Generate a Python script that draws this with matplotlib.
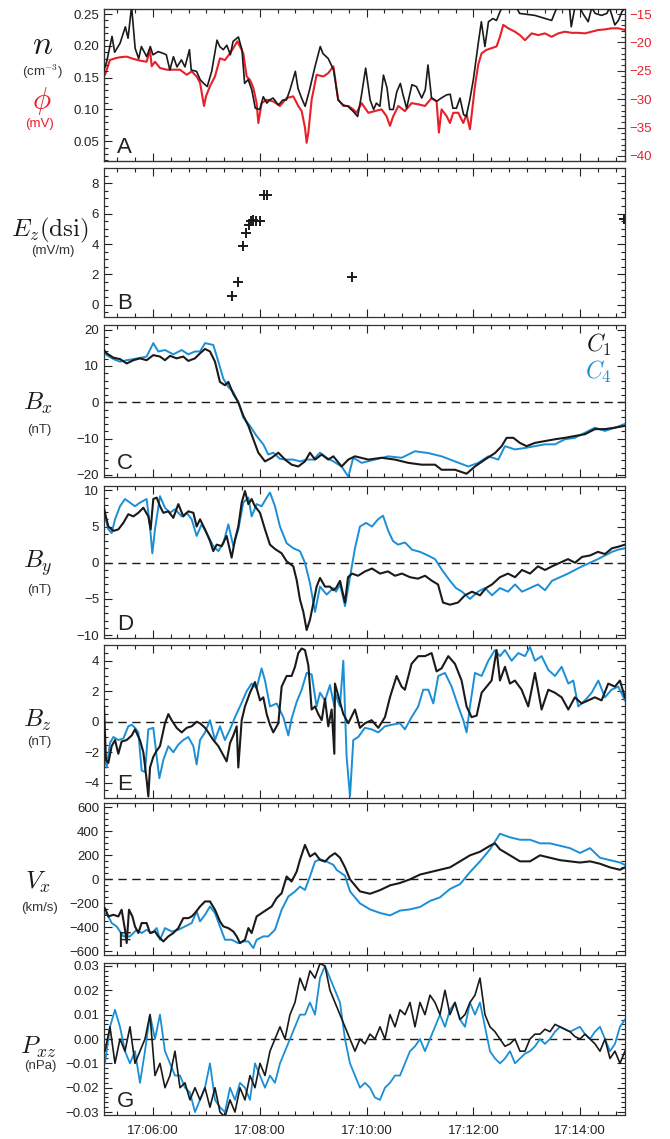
import matplotlib
matplotlib.use("Agg")
import matplotlib.pyplot as plt
import numpy as np
from matplotlib.ticker import MultipleLocator, FuncFormatter

plt.rcParams['font.family'] = ['Liberation Sans', 'DejaVu Sans']
plt.rcParams['mathtext.fontset'] = 'cm'
plt.rcParams['axes.unicode_minus'] = True

BLACK = '#1a1a1a'
BLUE = '#1b8fd6'
RED = '#e8202a'

# time in seconds after 17:00:00
T0, T1 = 305, 890.4

# A: density n (C1) and spacecraft potential phi
n_c1 = [(305, 0.162), (308, 0.175), (314, 0.215), (317, 0.19), (323, 0.204), (329, 0.23),
        (332, 0.212), (336, 0.262), (340, 0.196), (344, 0.18), (347, 0.199), (353, 0.183),
        (357, 0.199), (360, 0.186), (366, 0.191), (372, 0.188), (375, 0.186), (379, 0.162),
        (383, 0.183), (387, 0.167), (392, 0.178), (396, 0.167), (401, 0.194), (403, 0.162),
        (409, 0.16), (413, 0.147), (417, 0.141), (421, 0.136), (426, 0.16), (432, 0.209),
        (435, 0.199), (439, 0.194), (443, 0.201), (447, 0.186), (450, 0.207), (456, 0.214),
        (460, 0.194), (463, 0.141), (467, 0.147), (471, 0.131), (475, 0.102), (480, 0.1),
        (484, 0.12), (488, 0.11), (491, 0.115), (495, 0.118), (501, 0.107), (506, 0.115),
        (510, 0.115), (514, 0.131), (520, 0.16), (523, 0.133), (527, 0.118), (531, 0.105),
        (536, 0.131), (542, 0.167), (548, 0.199), (551, 0.188), (557, 0.18), (563, 0.162),
        (568, 0.115), (574, 0.107), (579, 0.105), (585, 0.097), (590, 0.089), (594, 0.12),
        (599, 0.165), (604, 0.115), (608, 0.1), (611, 0.11), (615, 0.105), (619, 0.154),
        (623, 0.134), (626, 0.1), (630, 0.1), (634, 0.128), (638, 0.141), (641, 0.123),
        (645, 0.102), (651, 0.139), (656, 0.136), (662, 0.118), (666, 0.131), (669, 0.17),
        (673, 0.118), (679, 0.113), (684, 0.118), (690, 0.123), (694, 0.124), (697, 0.102),
        (701, 0.102), (705, 0.118), (709, 0.092), (712, 0.089), (716, 0.115), (720, 0.147),
        (726, 0.209), (729, 0.238), (733, 0.199), (737, 0.238), (742, 0.243), (746, 0.24),
        (750, 0.254), (754, 0.265), (759, 0.262), (765, 0.27), (772, 0.251), (789, 0.248),
        (808, 0.24), (812, 0.254), (817, 0.27), (823, 0.262), (827, 0.275), (830, 0.23),
        (834, 0.26), (838, 0.265), (843, 0.251), (849, 0.238), (853, 0.26), (857, 0.251),
        (864, 0.248), (870, 0.251), (873, 0.26), (879, 0.233), (883, 0.24), (887, 0.254),
        (890.4, 0.26)]

phi_c1 = [(305, -25.4), (306.1, -25.7), (311.7, -23.1), (317.4, -22.8), (323, -22.6),
          (330.5, -22.5), (338, -22.9), (345.4, -23.2), (352.9, -23.4), (356.7, -21.3),
          (358.6, -24.2), (362.3, -23.4), (367.9, -24.5), (375.4, -24.8), (382.9, -24.8),
          (390.4, -24.8), (397.9, -25.7), (403.5, -25.1), (409.1, -26.0), (412.9, -27.1),
          (417.4, -31.2), (419.6, -29.5), (424.1, -27.7), (429.7, -26.0), (435.3, -22.8),
          (440.9, -23.1), (446.6, -21.9), (450.3, -21.0), (454.8, -19.8), (457.8, -20.7),
          (461.5, -21.9), (465.3, -26.0), (469, -26.6), (472.8, -28.0), (476.5, -30.7),
          (478.4, -34.2), (482.1, -30.7), (487.8, -30.1), (495.2, -30.4), (502.7, -31.2),
          (510.2, -29.8), (517.7, -29.5), (523.3, -31.2), (527.1, -32.1), (530.8, -35.0),
          (532.7, -37.7), (534.6, -35.9), (538.3, -30.1), (543.9, -25.7), (551.4, -26.0),
          (557, -25.4), (562.7, -24.2), (568.2, -30.1), (573.9, -31.2), (579.5, -31.2),
          (585.1, -31.8), (588.8, -32.4), (594.5, -30.7), (602, -32.4), (609.4, -32.1),
          (616.9, -31.8), (622.5, -33.0), (626.3, -34.7), (630, -33.0), (635.7, -31.2),
          (643.1, -32.1), (650.6, -30.7), (658.1, -30.9), (665.6, -31.2), (673.1, -29.8),
          (678.7, -30.4), (681.3, -35.9), (684.3, -31.8), (690, -33.0), (693.7, -34.2),
          (697.4, -32.4), (703.1, -32.4), (708.7, -34.2), (712.4, -32.7), (716.2, -35.3),
          (718.8, -31.8), (721.8, -27.7), (725.5, -23.9), (729.3, -21.9), (734.9, -21.3),
          (740.5, -21.0), (746.1, -20.7), (749.9, -19.0), (753.6, -16.9), (759.2, -17.5),
          (766.7, -18.1), (772.3, -18.7), (778, -19.6), (785.5, -18.4), (793, -18.7),
          (800.4, -18.4), (807.9, -19.0), (815.4, -18.4), (822.9, -18.1), (830.4, -18.3),
          (837.9, -18.3), (845.4, -18.4), (852.9, -18.1), (860.4, -17.8), (867.8, -17.7),
          (875.3, -17.5), (882.8, -17.5), (890.3, -17.8)]

# B: Ez in despun system
ez_t = [449.2, 455.9, 460.8, 464.5, 468.3, 470.5, 472.0, 475.8, 480.3, 484.8, 487.8, 583.6, 889.3]
ez_v = [0.61, 1.53, 3.9, 4.73, 5.23, 5.5, 5.56, 5.51, 5.51, 7.21, 7.21, 1.83, 5.62]

# C: Bx
bx_c1 = [(305, 14.4), (308, 13.5), (315.5, 12.3), (323, 11.9), (330.5, 10.7), (338, 11.6),
         (345.4, 12.1), (352.9, 11.6), (360.4, 13.0), (367.9, 12.6), (373.5, 11.6), (379.2, 12.8),
         (386.6, 12.1), (394.1, 12.6), (399.7, 11.4), (407.2, 12.1), (412.9, 13.5), (418.5, 14.7),
         (424.1, 14.0), (429.7, 11.2), (435.3, 5.6), (440.9, 4.7), (444.7, 5.6), (450.3, 2.3),
         (455.9, 0.0), (461.5, -3.7), (467.2, -6.5), (472.8, -10.2), (478.4, -13.9), (485.9, -16.3),
         (493.4, -15.3), (500.9, -13.9), (508.4, -15.8), (515.8, -17.2), (523.3, -17.7),
         (530.8, -16.3), (536.4, -13.9), (542.1, -15.8), (549.6, -14.4), (557, -15.8),
         (562.7, -14.9), (572, -17.7), (579.5, -15.8), (587, -14.9), (602, -15.8), (616.9, -15.3),
         (631.9, -15.8), (646.9, -16.7), (661.9, -17.2), (676.9, -17.2), (684.3, -18.6),
         (699.3, -18.6), (712.4, -19.7), (721.8, -17.7), (733, -15.8), (744.3, -14.0),
         (751.8, -12.1), (757.4, -9.8), (764.9, -9.8), (772.3, -11.2), (779.8, -12.1),
         (789.2, -11.2), (800.4, -10.7), (811.7, -10.2), (822.9, -9.8), (834.1, -9.3),
         (845.4, -8.8), (856.6, -7.4), (867.8, -7.4), (879.1, -7.0), (890.3, -6.5)]
bx_c4 = [(305, 14.0), (308, 13.0), (315.5, 11.9), (323, 11.2), (330.5, 11.6), (338, 11.9),
         (352.9, 12.6), (360.4, 16.3), (366, 14.0), (373.5, 14.4), (382.9, 13.2), (392.3, 14.4),
         (399.7, 13.2), (407.2, 14.0), (412.9, 14.0), (418.5, 16.3), (427.8, 15.8), (433.5, 11.2),
         (439.1, 6.5), (444.7, 4.2), (450.3, 2.8), (455.9, 0.0), (461.5, -4.2), (469, -6.5),
         (476.5, -9.3), (484, -11.6), (489.6, -14.4), (495.2, -13.9), (502.7, -15.6),
         (510.2, -15.8), (517.7, -15.8), (525.2, -16.3), (532.7, -15.8), (540.2, -15.8),
         (547.7, -13.9), (555.2, -15.3), (562.7, -16.3), (572, -17.7), (579.5, -20.5),
         (585.1, -15.3), (594.5, -16.7), (609.4, -15.8), (624.4, -14.9), (639.4, -15.3),
         (654.4, -13.5), (669.4, -14.0), (684.3, -14.9), (699.3, -16.3), (714.3, -17.7),
         (725.5, -16.7), (736.8, -14.9), (748, -15.8), (755.5, -12.1), (766.7, -13.0),
         (778, -12.6), (789.2, -12.1), (800.4, -11.6), (811.7, -11.6), (822.9, -10.2),
         (834.1, -9.8), (845.4, -8.4), (856.6, -7.0), (867.8, -7.9), (879.1, -7.0), (890.3, -6.0)]

# D: By
by_c1 = [(305, 7.6), (306.1, 6.9), (309.9, 5.0), (315.5, 4.4), (321.1, 4.6), (326.7, 5.5),
         (332.3, 6.7), (338, 6.4), (343.6, 6.9), (349.2, 7.6), (354.8, 6.4), (357.4, 4.6),
         (360.4, 8.8), (364.2, 9.0), (367.9, 7.8), (371.7, 6.9), (377.3, 7.1), (382.9, 6.2),
         (388.5, 8.1), (394.1, 6.4), (399.7, 7.1), (405.4, 6.9), (409.1, 5.0), (412.9, 6.0),
         (418.5, 4.6), (424.1, 3.0), (427.8, 1.6), (431.6, 2.5), (437.2, 2.3), (442.8, 3.7),
         (448.4, 0.7), (452.2, 3.2), (455.9, 5.0), (459.7, 8.3), (463.4, 9.9), (467.2, 8.1),
         (470.9, 8.8), (474.6, 7.8), (480.3, 6.9), (485.9, 4.6), (491.5, 2.5), (497.1, 1.9),
         (504.6, 1.3), (510.2, 0.2), (517.7, -0.5), (521.5, -2.4), (525.2, -5.1), (529, -6.8),
         (532.7, -9.3), (536.4, -7.9), (540.2, -5.6), (543.9, -3.3), (547.7, -2.1), (553.3, -3.3),
         (558.9, -3.3), (562.7, -3.8), (565.7, -3.5), (570.2, -2.5), (575.8, -5.5), (579.2, -2.0),
         (583.7, -1.5), (590.4, -1.8), (598.3, -1.2), (606.1, -0.8), (615.1, -1.5), (624.1, -1.2),
         (632, -1.8), (639.8, -1.5), (648.8, -2.0), (657.8, -2.2), (665.7, -1.8), (673.5, -2.5),
         (680.3, -3.0), (685.9, -5.5), (693.8, -5.8), (702.8, -5.5), (710.6, -4.5), (718.5, -4.0),
         (727.5, -4.5), (734.2, -3.5), (741, -3.0), (749.9, -2.0), (758.9, -1.5), (766.8, -2.0),
         (774.7, -1.0), (783.7, -1.5), (792.6, -0.5), (800.5, -1.0), (808.4, -0.5), (817.4, 0.0),
         (826.4, 0.5), (834.2, 0.0), (842.1, 0.8), (851.1, 1.0), (860, 1.5), (867.9, 1.2),
         (875.8, 2.0), (882.5, 2.2), (890.4, 2.5)]
by_c4 = [(305, 5.7), (306.1, 6.4), (309.9, 4.6), (313.6, 4.1), (317.4, 6.0), (323, 7.8),
         (328.6, 8.8), (334.2, 8.3), (339.8, 7.8), (345.4, 8.3), (352.9, 8.8), (356.7, 5.0),
         (359.3, 1.3), (362.3, 4.6), (367.9, 9.2), (373.5, 7.6), (379.2, 6.9), (384.8, 7.4),
         (392.3, 6.4), (397.9, 6.9), (403.5, 6.0), (409.1, 3.7), (414.7, 5.3), (420.3, 4.1),
         (427.8, 2.3), (433.5, 1.6), (439.1, 2.7), (444.7, 5.3), (450.3, 2.3), (455.9, 4.6),
         (461.5, 8.3), (467.2, 9.0), (470.9, 6.4), (476.5, 8.1), (482.1, 7.8), (487.8, 9.0),
         (491.5, 9.7), (497.1, 7.8), (502.7, 5.0), (510.2, 2.7), (517.7, 2.0), (525.2, 1.6),
         (530.8, 0.0), (536.4, -2.8), (542.1, -6.8), (547.7, -3.3), (555.2, -4.4), (562.7, -3.5),
         (565.7, -4.0), (570.2, -3.0), (575.8, -6.0), (581.4, -2.0), (587, 2.0), (592.6, 5.0),
         (599.4, 5.5), (606.1, 5.0), (612.9, 6.0), (618.5, 6.5), (624.1, 4.5), (629.7, 3.0),
         (635.3, 2.5), (643.2, 2.8), (651.1, 1.8), (660.1, 1.5), (669, 1.0), (676.9, 0.5),
         (684.8, -1.0), (693.8, -2.5), (700.5, -3.5), (707.3, -4.0), (716.2, -5.0), (725.2, -4.0),
         (733.1, -3.5), (741, -4.5), (749.9, -3.5), (758.9, -4.0), (766.8, -3.0), (774.7, -4.0),
         (783.7, -3.5), (792.6, -3.0), (800.5, -3.8), (808.4, -2.5), (817.4, -2.0), (826.4, -1.5),
         (834.2, -1.0), (842.1, -0.5), (851.1, 0.0), (860, 0.5), (867.9, 1.0), (875.8, 1.5),
         (882.5, 1.8), (890.4, 2.0)]

# E: Bz
bz_c1 = [(305, 1.0), (307.2, -2.5), (309.9, -2.7), (313.6, -1.6), (317.4, -1.2), (321.1, -2.1),
         (324.8, -1.3), (330.5, -1.2), (336.1, -0.9), (339.8, -0.5), (345.4, -1.2), (349.2, -2.0),
         (352.9, -3.8), (354.8, -4.9), (356.7, -3.0), (360.4, -2.3), (364.2, -1.9), (367.9, -1.6),
         (373.5, -0.1), (377.3, 0.5), (381, 0.1), (386.6, -0.4), (392.3, -0.7), (397.9, -0.4),
         (403.5, -0.3), (409.1, 0.0), (412.9, -0.1), (418.5, -0.4), (422.2, -0.7), (427.8, -1.2),
         (433.5, -1.6), (439.1, -2.2), (442.8, -2.6), (446.6, -1.4), (450.3, -0.9), (454.1, -0.3),
         (455.9, -3.0), (459.7, 0.1), (463.4, 1.0), (469, 1.9), (474.6, 2.6), (480.3, 1.4),
         (484, 1.6), (487.8, 0.5), (491.5, -0.2), (495.2, -0.7), (500.9, -0.1), (504.6, 2.3),
         (510.2, 3.0), (515.8, 3.0), (519.6, 3.6), (523.3, 4.5), (527.1, 4.8), (530.8, 4.7),
         (534.6, 3.7), (538.3, 0.8), (542.1, 1.0), (545.8, 0.5), (549.6, 0.1), (553.3, 1.5),
         (557, -0.3), (560.8, 0.8), (563.8, -2.1), (564.5, 2.5), (570.1, 1.3), (573.9, 0.5),
         (579.5, -0.1), (587, 0.8), (592.6, -0.4), (598.2, -0.1), (605.7, 0.1), (613.2, -0.4),
         (620.7, 0.3), (626.3, 1.6), (633.8, 3.0), (639.4, 2.3), (643.1, 2.1), (650.6, 3.8),
         (658.1, 4.3), (665.6, 4.3), (673.1, 4.5), (678.7, 3.3), (684.3, 3.5), (691.8, 4.3),
         (699.3, 3.8), (706.8, 2.7), (712.4, 1.0), (718, 0.3), (723.7, 0.4), (729.3, 1.9),
         (734.9, 2.3), (740.5, 2.7), (746.1, 4.7), (749.9, 2.7), (755.5, 3.6), (761.1, 2.5),
         (766.7, 2.7), (774.2, 2.1), (781.7, 1.0), (789.2, 3.2), (796.7, 0.8), (804.2, 2.1),
         (811.7, 1.9), (819.2, 1.6), (826.7, 0.8), (834.1, 1.6), (841.6, 1.2), (849.1, 1.4),
         (856.6, 1.6), (864.1, 1.4), (871.6, 2.5), (879.1, 2.3), (884.7, 2.7), (890.3, 1.6)]
bz_c4 = [(305, 0.1), (305.5, -2.1), (308, -3.0), (311.7, -1.4), (315.5, -1.0), (321.1, -1.2),
         (326.7, -1.1), (332.3, -0.3), (336.1, -0.2), (339.8, -0.4), (343.6, -0.7), (347.3, -3.2),
         (351.1, -3.3), (354.8, -0.5), (360.4, -0.4), (364.2, -2.3), (367.2, -3.7), (371.7, -2.5),
         (377.3, -1.6), (382.9, -2.0), (388.5, -1.5), (394.1, -1.2), (399.7, -1.0), (405.4, -1.6),
         (409.1, -2.8), (412.9, -1.2), (418.5, -0.7), (424.1, 0.1), (429.7, -1.2), (435.3, -0.3),
         (440.9, -1.2), (446.6, -0.5), (452.2, 0.3), (457.8, 1.0), (465.3, 2.0), (470.9, 2.5),
         (476.5, 2.2), (482.1, 3.5), (485.9, 2.7), (491.5, 1.0), (499, 1.2), (506.5, 0.3),
         (512.1, -0.9), (515.8, 0.2), (521.5, 1.3), (527.1, 2.1), (532.7, 3.2), (538.3, 3.1),
         (543.9, 1.0), (547.7, 1.9), (553.3, 1.4), (558.9, 2.4), (563.8, 1.0), (564.5, 1.9),
         (570.1, 1.0), (573.9, 4.0), (577.6, -2.3), (581.4, -4.9), (585.1, -1.2), (590.7, -1.0),
         (598.2, -0.4), (605.7, -0.5), (613.2, -0.7), (620.7, -0.3), (628.2, -0.2), (637.5, -0.1),
         (643.1, -0.5), (650.6, 0.3), (658.1, 1.0), (663.7, 2.1), (669.4, 2.1), (675, 1.2),
         (680.6, 3.0), (688.1, 3.2), (695.6, 2.3), (703.1, 1.0), (708.7, 0.1), (712.4, -0.7),
         (716.2, 1.0), (721.8, 3.2), (729.3, 3.0), (736.8, 4.0), (744.3, 4.7), (749.9, 4.3),
         (755.5, 4.7), (763, 4.0), (770.5, 4.5), (778, 4.3), (783.6, 4.9), (789.2, 4.0),
         (796.7, 4.3), (804.2, 3.4), (811.7, 3.0), (819.2, 3.6), (826.7, 2.5), (832.3, 2.7),
         (837.9, 1.0), (845.4, 1.4), (852.9, 1.9), (860.4, 2.7), (867.8, 1.6), (875.3, 2.1),
         (882.8, 2.3), (890.3, 1.4)]

# F: Vx
vx_c1 = [(305, -253), (306.1, -240), (309.9, -309), (315.5, -295), (321.1, -309), (324.8, -253),
         (328.6, -420), (330.5, -530), (333.1, -253), (336.9, -309), (339.8, -392), (343.6, -447),
         (347.3, -364), (352.9, -364), (356.7, -447), (362.3, -434), (366, -475), (371.7, -517),
         (377.3, -475), (382.9, -447), (388.5, -406), (394.1, -323), (399.7, -323), (403.5, -309),
         (407.2, -281), (412.9, -226), (418.5, -184), (424.1, -184), (429.7, -253), (435.3, -350),
         (439.1, -392), (444.7, -406), (450.3, -434), (454.1, -475), (457.8, -531), (463.4, -503),
         (467.2, -406), (470.9, -447), (476.5, -309), (482.1, -281), (487.8, -253), (493.4, -226),
         (499, -156), (504.6, -115), (510.2, 24), (515.8, -18), (521.5, 65), (525.2, 162),
         (530.8, 287), (536.4, 190), (542.1, 218), (547.7, 162), (553.3, 148), (558.9, 190),
         (564.5, 218), (570.2, 180), (575.8, 100), (581.4, 0), (587, -50), (592.6, -100),
         (603.9, -120), (615.1, -90), (626.4, -50), (637.6, -30), (648.8, 0), (660.1, 40),
         (671.3, 60), (682.5, 80), (693.8, 100), (705, 150), (716.2, 200), (727.5, 230),
         (738.7, 280), (744.3, 300), (749.9, 250), (761.2, 200), (772.4, 150), (783.7, 150),
         (794.9, 200), (806.1, 180), (817.4, 160), (828.6, 150), (839.8, 140), (851.1, 150),
         (862.3, 130), (873.5, 100), (884.8, 80), (890.4, 100)]
vx_c4 = [(305, -295), (308, -281), (313.6, -364), (319.2, -392), (326.7, -475), (334.2, -475),
         (341.7, -420), (347.3, -447), (352.9, -420), (358.6, -447), (364.2, -406), (367.9, -503),
         (373.5, -406), (381, -434), (388.5, -420), (396, -392), (403.5, -364), (409.1, -267),
         (412.9, -350), (418.5, -295), (424.1, -226), (429.7, -281), (435.3, -392), (440.9, -503),
         (448.4, -503), (455.9, -531), (461.5, -517), (467.2, -517), (472.8, -572), (476.5, -503),
         (484, -475), (489.6, -475), (497.1, -420), (504.6, -253), (512.1, -143), (519.6, -101),
         (525.2, -60), (530.8, -88), (536.4, 24), (542.1, 148), (547.7, 168), (555.2, 148),
         (562.7, 121), (566.4, 79), (575.8, 30), (581.4, -100), (592.6, -200), (603.9, -250),
         (615.1, -280), (626.4, -300), (637.6, -260), (648.8, -250), (660.1, -230), (671.3, -180),
         (682.5, -150), (693.8, -80), (705, -40), (716.2, 60), (727.5, 150), (738.7, 250),
         (749.9, 380), (761.2, 350), (772.4, 330), (783.7, 330), (794.9, 300), (806.1, 300),
         (817.4, 280), (828.6, 260), (839.8, 220), (851.1, 260), (862.3, 180), (873.5, 160),
         (884.8, 140), (890.4, 120)]

# G: Pxz, one sample every 5.6 s starting 17:05:06
pxz_t0, pxz_dt = 306.1, 5.618
pxz_c1 = [-0.005, 0.005, -0.010, 0.000, -0.005, 0.005, -0.010, -0.005, 0.000, 0.010,
          -0.015, -0.010, -0.020, -0.015, -0.005, -0.020, -0.018, -0.025, -0.020, -0.025,
          -0.020, -0.028, -0.020, -0.030, -0.032, -0.025, -0.030, -0.020, -0.025, -0.015,
          -0.020, -0.010, -0.015, -0.005, 0.000, 0.005, 0.000, 0.010, 0.015, 0.025,
          0.020, 0.028, 0.025, 0.031, 0.030, 0.020, 0.015, 0.010, 0.005, 0.000,
          -0.005, 0.000, -0.002, 0.002, 0.000, 0.005, 0.000, 0.010, 0.005, 0.012,
          0.010, 0.015, 0.005, 0.015, 0.010, 0.018, 0.015, 0.010, 0.020, 0.010,
          0.015, 0.008, 0.010, 0.015, 0.018, 0.025, 0.010, 0.005, 0.003, 0.000,
          -0.003, -0.002, 0.000, -0.005, -0.005, 0.000, 0.002, 0.002, 0.004, 0.003,
          0.006, 0.005, 0.004, 0.003, 0.001, 0.000, 0.002, 0.000, -0.002, -0.005,
          0.000, -0.008, -0.005, -0.010, -0.005]
pxz_c4 = [-0.010, 0.005, 0.012, 0.005, -0.005, -0.010, -0.005, -0.018, -0.005, 0.010,
          0.000, 0.010, -0.005, -0.010, -0.015, -0.015, -0.020, -0.022, -0.030, -0.025,
          -0.020, -0.010, -0.025, -0.028, -0.030, -0.020, -0.025, -0.018, -0.020, -0.025,
          -0.010, -0.015, -0.020, -0.015, -0.018, -0.010, -0.005, 0.000, 0.005, 0.010,
          0.010, 0.015, 0.010, 0.025, 0.030, 0.025, 0.020, 0.015, 0.000, -0.010,
          -0.015, -0.020, -0.018, -0.020, -0.024, -0.025, -0.020, -0.018, -0.015, -0.015,
          -0.010, -0.005, -0.003, 0.000, -0.005, 0.000, 0.005, 0.010, 0.005, 0.012,
          0.015, 0.008, 0.005, 0.015, 0.010, 0.015, 0.005, -0.005, -0.008, -0.010,
          -0.008, -0.005, -0.010, -0.008, -0.006, -0.005, -0.003, 0.000, -0.002, 0.000,
          0.003, 0.005, 0.004, 0.003, 0.004, 0.005, 0.002, 0.000, 0.003, 0.005,
          0.000, -0.005, -0.002, 0.005, 0.008]

W, H = 670, 1139
fig = plt.figure(figsize=(W / 100, H / 100), dpi=100)

# panel frames in pixels (top, bottom)
rows = [(9, 161), (168, 317), (325, 477), (486, 638), (645, 798), (803, 955), (963, 1115)]
X0, X1 = 104, 625
axes = []
for top, bot in rows:
    ax = fig.add_axes([X0 / W, 1 - bot / H, (X1 - X0) / W, (bot - top) / H])
    axes.append(ax)


def style(ax, ymaj, ymin, right=True):
    ax.set_xlim(T0, T1)
    ax.xaxis.set_major_locator(MultipleLocator(120))
    ax.xaxis.set_minor_locator(MultipleLocator(20))
    ax.yaxis.set_major_locator(MultipleLocator(ymaj))
    ax.yaxis.set_minor_locator(MultipleLocator(ymin))
    ax.tick_params(which='both', direction='in', top=True, right=right,
                   labelsize=9.5, colors='#222222', width=0.8)
    ax.tick_params(which='major', length=6)
    ax.tick_params(which='minor', length=3)
    ax.tick_params(axis='x', labelbottom=False)
    for s in ax.spines.values():
        s.set_linewidth(0.9)
        s.set_color('#333333')


def series(pairs):
    arr = np.array(pairs, dtype=float)
    return arr[:, 0], arr[:, 1]


def zero(ax):
    ax.axhline(0, color=BLACK, lw=1.0, ls=(0, (6, 4)), zorder=1)


def letter(ax, s, x=0.025):
    ax.text(x, 0.02, s, transform=ax.transAxes, fontsize=16, va='bottom', ha='left', color='#222222')


def ftext(x, y, s, **kw):
    fig.text(x / W, 1 - y / H, s, ha='center', va='center', **kw)


# A
ax = axes[0]
style(ax, 0.05, 0.01, right=False)
ax.set_ylim(0.019, 0.258)
ax.yaxis.set_major_formatter(FuncFormatter(lambda v, p: f'{v:.2f}'))
t, v = series(n_c1)
ax.plot(t, v, color=BLACK, lw=1.2, zorder=3)
ax2 = ax.twinx()
ax2.set_ylim(-40.9, -14.1)
ax2.yaxis.set_major_locator(MultipleLocator(5))
ax2.yaxis.set_minor_locator(MultipleLocator(1))
ax2.tick_params(which='both', direction='in', labelsize=9.5, labelcolor=RED, colors='#333333', width=0.8)
ax2.tick_params(which='major', length=6)
ax2.tick_params(which='minor', length=3)
for tl in ax2.get_yticklabels():
    tl.set_color(RED)
t, v = series(phi_c1)
ax2.plot(t, v, color=RED, lw=1.5, zorder=2)
ax.set_zorder(ax2.get_zorder() + 1)
ax.patch.set_visible(False)
letter(ax, 'A')
ftext(43, 45, r'$n$', fontsize=24, color=BLACK)
ftext(42, 72, r'(cm$^{-3}$)', fontsize=9.5, color='#333333')
ftext(42, 101, r'$\phi$', fontsize=22, color=RED)
ftext(40, 124, '(mV)', fontsize=9.5, color=RED)

# B
ax = axes[1]
style(ax, 2, 0.5)
ax.set_ylim(-0.8, 9.0)
ax.plot(ez_t, ez_v, ls='none', marker='+', ms=7, mew=1.4, color=BLACK)
letter(ax, 'B')
ftext(50, 230, r'$E_z(\mathrm{dsi})$', fontsize=18, color=BLACK)
ftext(53, 251, '(mV/m)', fontsize=9.5, color='#333333')

# C to F: two-spacecraft comparisons
panels = [
    (axes[2], bx_c1, bx_c4, (-20.6, 21.3), 10, 2, 'C', r'$B_x$', '(nT)', 403, 430),
    (axes[3], by_c1, by_c4, (-10.4, 10.6), 5, 1, 'D', r'$B_y$', '(nT)', 563, 590),
    (axes[4], bz_c1, bz_c4, (-5.0, 5.03), 2, 0.5, 'E', r'$B_z$', '(nT)', 720, 742),
    (axes[5], vx_c1, vx_c4, (-630, 636), 200, 50, 'F', r'$V_x$', '(km/s)', 882, 908),
]
for ax, c1, c4, ylim, ymaj, ymin, lab, sym, unit, ysym, yunit in panels:
    style(ax, ymaj, ymin)
    ax.set_ylim(*ylim)
    zero(ax)
    t, v = series(c1)
    ax.plot(t, v, color=BLACK, lw=1.5, zorder=3)
    t, v = series(c4)
    ax.plot(t, v, color=BLUE, lw=1.4, zorder=2)
    letter(ax, lab)
    ftext(38, ysym, sym, fontsize=18, color=BLACK)
    ftext(39, yunit, unit, fontsize=9.5, color='#333333')

axes[2].text(0.975, 0.87, r'$C_1$', transform=axes[2].transAxes, ha='right', va='center',
             fontsize=17, color=BLACK)
axes[2].text(0.975, 0.69, r'$C_4$', transform=axes[2].transAxes, ha='right', va='center',
             fontsize=17, color=BLUE)

# G
ax = axes[6]
style(ax, 0.01, 0.002)
ax.set_ylim(-0.0312, 0.0312)
ax.yaxis.set_major_formatter(FuncFormatter(lambda v, p: f'{v:.2f}'.replace('-', '\u2212')))
zero(ax)
tp = pxz_t0 + pxz_dt * np.arange(len(pxz_c1))
ax.plot(tp, pxz_c1, color=BLACK, lw=1.2, zorder=3)
ax.plot(tp, pxz_c4, color=BLUE, lw=1.3, zorder=2)
letter(ax, 'G')
ftext(38, 1047, r'$P_{xz}$', fontsize=18, color=BLACK)
ftext(40, 1066, '(nPa)', fontsize=9.5, color='#333333')
ax.tick_params(axis='x', labelbottom=True, pad=7)
ax.xaxis.set_major_formatter(FuncFormatter(lambda s, p: f'17:{int(s // 60):02d}:{int(round(s % 60)):02d}'))

fig.savefig('out.png', dpi=100)
